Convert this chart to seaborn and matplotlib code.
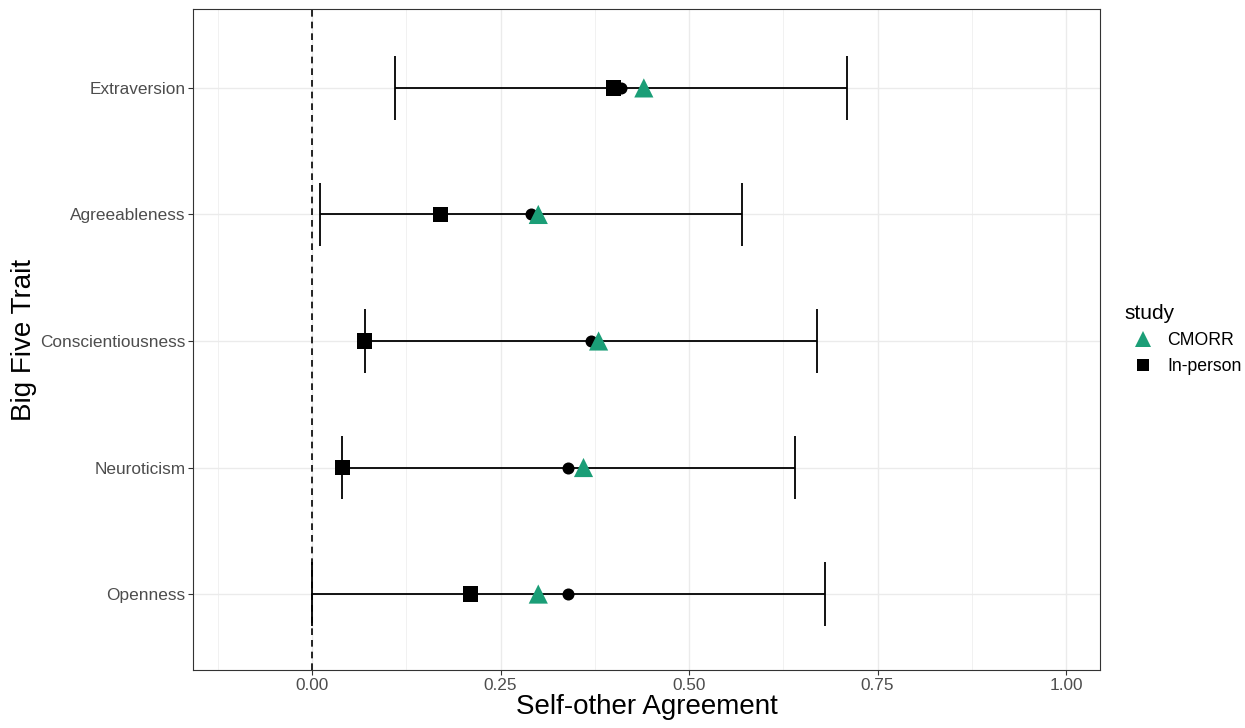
import numpy as np
import pandas as pd
import matplotlib
matplotlib.use("Agg")
import matplotlib.pyplot as plt
import seaborn as sns

# Data
traits = ["Extraversion", "Agreeableness", "Conscientiousness", "Neuroticism", "Openness"]
ci_low = [0.11, 0.01, 0.07, 0.04, 0.00]
ci_high = [0.71, 0.57, 0.67, 0.64, 0.68]
pooled = [0.41, 0.29, 0.37, 0.34, 0.34]
cmorr = [0.44, 0.30, 0.38, 0.36, 0.30]
in_person = [0.40, 0.17, 0.07, 0.04, 0.21]
x_ticks = [0.00, 0.25, 0.50, 0.75, 1.00]
x_tick_labels = ["0.00", "0.25", "0.50", "0.75", "1.00"]


def main():
    sns.set_style("white")
    plt.rcParams['font.family'] = ['Liberation Sans', 'DejaVu Sans']

    ypos = np.arange(len(traits))
    df = pd.DataFrame({
        "trait": traits * 2,
        "y": np.concatenate([ypos, ypos]),
        "r": cmorr + in_person,
        "study": ["CMORR"] * len(traits) + ["In-person"] * len(traits),
    })

    fig, ax = plt.subplots(figsize=(12.45, 7.28), dpi=100)
    fig.subplots_adjust(left=0.155, right=0.8835, top=0.987, bottom=0.0797)

    # grid
    for v in np.arange(-0.125, 1.1, 0.125):
        major = abs((v / 0.25) - round(v / 0.25)) < 1e-9
        ax.axvline(v, color="#ebebeb", lw=1.0 if major else 0.5, zorder=0)
    for y in ypos:
        ax.axhline(y, color="#ebebeb", lw=1.0, zorder=0)

    ax.axvline(0, color="black", lw=1.2, ls=(0, (4, 3)), zorder=1)

    # error bars
    ax.hlines(ypos, ci_low, ci_high, color="black", lw=1.3, zorder=2)
    ax.vlines(ci_low, ypos - 0.25, ypos + 0.25, color="black", lw=1.3, zorder=2)
    ax.vlines(ci_high, ypos - 0.25, ypos + 0.25, color="black", lw=1.3, zorder=2)

    ax.scatter(pooled, ypos, s=75, color="black", zorder=3, linewidths=0)

    sns.scatterplot(data=df, x="r", y="y", hue="study", style="study", size="study",
                    palette={"CMORR": "#1b9e77", "In-person": "black"},
                    markers={"CMORR": "^", "In-person": "s"},
                    sizes={"CMORR": 190, "In-person": 120},
                    linewidth=0, ax=ax, zorder=4)

    ax.set_xlim(-0.158, 1.045)
    ax.set_ylim(len(traits) - 0.4, -0.62)
    ax.set_xticks(x_ticks)
    ax.set_xticklabels(x_tick_labels)
    ax.set_yticks(ypos)
    ax.set_yticklabels(traits)
    ax.tick_params(axis="both", which="major", length=3.5, width=0.8,
                   color="#333333", labelsize=12.4, labelcolor="#4d4d4d",
                   bottom=True, left=True, pad=2)
    for s in ax.spines.values():
        s.set_color("#333333")
        s.set_linewidth(0.8)

    ax.set_xlabel("Self-other Agreement", fontsize=20, labelpad=1, color="black")
    ax.set_ylabel("Big Five Trait", fontsize=20, labelpad=2, color="black")

    handles, labels = ax.get_legend_handles_labels()
    leg = ax.legend(handles, labels, title="study", loc="center left",
                    bbox_to_anchor=(1.01, 0.5), frameon=False, fontsize=12.7,
                    title_fontsize=15, handletextpad=0.4, labelspacing=0.5,
                    markerscale=0.85)
    leg._legend_box.align = "left"
    for t in leg.get_texts():
        t.set_color("black")
    leg.get_title().set_color("black")

    plt.savefig("out.png", dpi=100)


if __name__ == "__main__":
    main()
